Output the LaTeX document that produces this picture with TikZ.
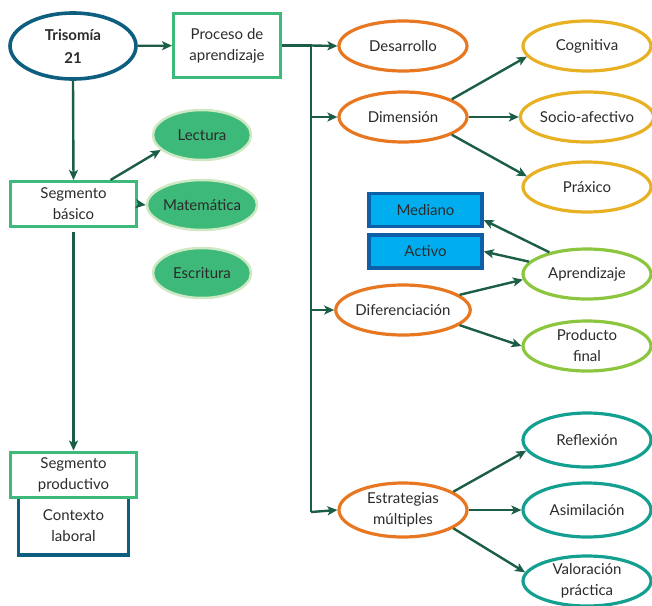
\documentclass[tikz,border=0pt]{standalone}
\usepackage{fontspec}
\setmainfont{Lato}
\usetikzlibrary{arrows.meta,shapes.geometric,calc}
\definecolor{tdark}{HTML}{2B2B2B}
\definecolor{navy}{HTML}{0E5E80}
\definecolor{mgreen}{HTML}{3DBA7A}
\definecolor{lgreenb}{HTML}{CDE8C2}
\definecolor{arrg}{HTML}{1B5E45}
\definecolor{orng}{HTML}{E87722}
\definecolor{yell}{HTML}{E8B123}
\definecolor{lime}{HTML}{8CC63F}
\definecolor{teal2}{HTML}{14A090}
\definecolor{cyanf}{HTML}{00AEEF}
\definecolor{blueb}{HTML}{0D5FA8}
\tikzset{
  txt/.style={text=tdark,font=\fontsize{15}{21}\selectfont,align=center},
  ell/.style={txt,ellipse,draw,line width=3.2pt,fill=white,minimum width=128pt,minimum height=50pt,inner sep=0pt},
  orangeell/.style={ell,draw=orng},
  yellowell/.style={ell,draw=yell},
  limeell/.style={ell,draw=lime},
  tealell/.style={ell,draw=teal2},
  greenell/.style={txt,ellipse,draw=lgreenb,fill=mgreen,line width=2.5pt,minimum width=98pt,minimum height=50pt,inner sep=0pt},
  gbox/.style={txt,rectangle,draw=mgreen,line width=3pt,fill=white,minimum width=126pt,minimum height=45pt,inner sep=0pt},
  bluebox/.style={txt,rectangle,draw=blueb,fill=cyanf,line width=3.5pt,minimum width=113pt,minimum height=33pt,inner sep=0pt},
  arr/.style={draw=arrg,line width=2.4pt,-{Stealth[length=10pt,width=9pt,inset=2.5pt]}},
  ln/.style={draw=arrg,line width=2.4pt}
}
\begin{document}
\begin{tikzpicture}[x=1pt,y=-1pt]
\useasboundingbox (0,0) rectangle (652,605);
% left column
\node[ell,draw=navy,line width=3.6pt,minimum width=126pt,minimum height=66pt,font=\fontsize{15}{23}\selectfont\bfseries] (tri) at (73,46) {Trisomía\\21};
\node[gbox,minimum width=107pt,minimum height=64pt] (pa) at (227,45.5) {Proceso de\\aprendizaje};
\node[gbox] (sb) at (73.5,204) {Segmento\\básico};
\node[txt,rectangle,draw=navy,line width=3.5pt,fill=white,minimum width=110pt,minimum height=58pt,inner sep=0pt] (cl) at (73.5,526) {Contexto\\laboral};
\node[gbox] (sp) at (73.5,474.5) {Segmento\\productivo};
\node[greenell] (lec) at (202,135) {Lectura};
\node[greenell] (mat) at (202,205) {Matemática};
\node[greenell] (esc) at (202,273) {Escritura};
% middle
\node[orangeell] (des) at (403,46) {Desarrollo};
\node[orangeell] (dim) at (403,117) {Dimensión};
\node[orangeell] (dif) at (403,310) {Diferenciación};
\node[orangeell,minimum height=54pt] (est) at (403,510) {Estrategias\\múltiples};
% right
\node[yellowell] (cog) at (587,46) {Cognitiva};
\node[yellowell] (soc) at (587,117) {Socio-afectivo};
\node[yellowell] (pra) at (587,187) {Práxico};
\node[limeell] (apr) at (587,274) {Aprendizaje};
\node[limeell] (pro) at (587,346) {Producto\\final};
\node[tealell,minimum height=54pt] (ref) at (587,440) {Reflexión};
\node[tealell,minimum height=54pt] (asi) at (587,510) {Asimilación};
\node[tealell,minimum height=50pt] (val) at (587,581) {Valoración\\práctica};
\node[bluebox] (med) at (425.5,210) {Mediano};
\node[bluebox] (act) at (425.5,251.5) {Activo};
% connectors left
\draw[arr] (tri) -- (pa);
\draw[arr] (tri.south) -- (sb.north);
\draw[arr,shorten <=4pt] (sb.south) -- (sp.north);
\draw[arr] ($(sb.north)+(37,0)$) -- (lec.200);
\draw[arr] (sb.east) -- (mat.west);
% trunk
\coordinate (t1) at (311,45.5);
\coordinate (t2) at (311,117);
\coordinate (t3) at (311,310);
\coordinate (t4) at (311,512);
\draw[ln] (pa.east) -- (t1) -- (t4);
\draw[arr] (t1) -- (des.west);
\draw[arr] (t2) -- (dim.west);
\draw[arr] (t3) -- (dif.west);
\draw[arr] (t4) -- (est.west);
% dimension
\draw[arr] (dim.20) -- (cog.190);
\draw[arr] (dim.east) -- (soc.west);
\draw[arr] (dim.-20) -- (pra.170);
% diferenciacion
\draw[arr] (dif.15) -- (apr.185);
\draw[arr] (dif.-15) -- (pro.180);
\draw[arr] (apr.150) -- ($(med.east)+(0,10)$);
\draw[arr] (apr.168) -- (act.east);
% estrategias
\draw[arr] (est.20) -- (ref.190);
\draw[arr] (est.east) -- (asi.west);
\draw[arr] (est.-20) -- (val.172);
\end{tikzpicture}
\end{document}
